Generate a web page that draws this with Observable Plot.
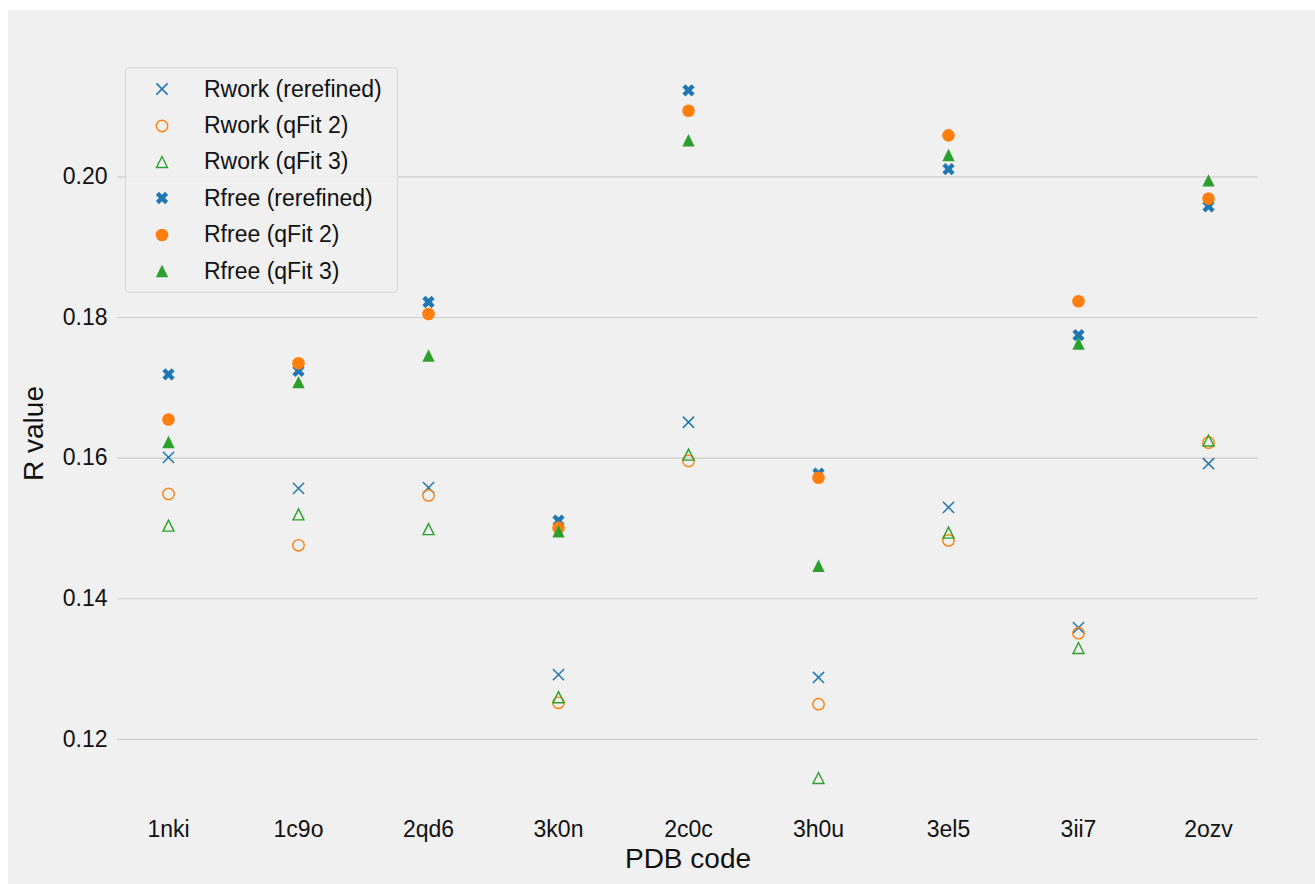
<!DOCTYPE html>
<html>
<head>
<meta charset="utf-8">
<script src="https://cdn.jsdelivr.net/npm/d3@7"></script>
<script src="https://cdn.jsdelivr.net/npm/@observablehq/plot@0.6"></script>
<style>
  body { margin: 0; background: #ffffff; }
  #wrap { position: relative; width: 1315px; height: 884px; overflow: hidden; }
  #chart { position: absolute; left: 8px; top: 10px; }
  #legend {
    position: absolute; left: 125px; top: 67px; width: 273px; height: 226px;
    box-sizing: border-box; border: 1px solid #d6d6d6; border-radius: 4px;
    background: rgba(240,240,240,0.8); padding-top: 3px;
    font-family: "Liberation Sans", Arial, sans-serif; font-size: 23px; color: #111;
  }
  .row { height: 36.4px; display: flex; align-items: center; }
  .row svg { margin-left: 26px; margin-right: 32px; flex: none; }
</style>
</head>
<body>
<div id="wrap"><div id="chart"></div><div id="legend"></div></div>
<script>
// ---- data ----
const codes = ["1nki", "1c9o", "2qd6", "3k0n", "2c0c", "3h0u", "3el5", "3ii7", "2ozv"];
const seriesNames = ["Rwork (rerefined)", "Rwork (qFit 2)", "Rwork (qFit 3)",
                     "Rfree (rerefined)", "Rfree (qFit 2)", "Rfree (qFit 3)"];
const rworkRerefined = [0.1601, 0.1557, 0.1558, 0.1292, 0.1651, 0.1288, 0.1530, 0.1359, 0.1592];
const rworkQfit2     = [0.1549, 0.1476, 0.1547, 0.1252, 0.1596, 0.1250, 0.1483, 0.1351, 0.1622];
const rworkQfit3     = [0.1504, 0.1520, 0.1499, 0.1260, 0.1605, 0.1145, 0.1494, 0.1330, 0.1625];
const rfreeRerefined = [0.1719, 0.1724, 0.1822, 0.1511, 0.2123, 0.1578, 0.2011, 0.1775, 0.1958];
const rfreeQfit2     = [0.1655, 0.1735, 0.1805, 0.1501, 0.2094, 0.1572, 0.2059, 0.1823, 0.1969];
const rfreeQfit3     = [0.1623, 0.1708, 0.1746, 0.1496, 0.2052, 0.1447, 0.2031, 0.1763, 0.1995];
const yTicks = [0.12, 0.14, 0.16, 0.18, 0.20];
const xLabel = "PDB code";
const yLabel = "R value";

// ---- symbols ----
const rad = size => Math.sqrt(size / Math.PI);
const symTimes = { draw(ctx, size) { const a = rad(size); ctx.moveTo(-a, -a); ctx.lineTo(a, a); ctx.moveTo(-a, a); ctx.lineTo(a, -a); } };
const symCircle = { draw(ctx, size) { const r = rad(size); ctx.moveTo(r, 0); ctx.arc(0, 0, r, 0, 2 * Math.PI); ctx.closePath(); } };
const symTriangle = { draw(ctx, size) { const a = rad(size); ctx.moveTo(0, -a); ctx.lineTo(a, a); ctx.lineTo(-a, a); ctx.closePath(); } };
const symXFilled = { draw(ctx, size) {
  const L = rad(size) * 1.05, h = L / 3, c = Math.SQRT1_2;
  const arm = (ux, uy, vx, vy) => {
    ctx.moveTo(L * ux + h * vx, L * uy + h * vy);
    ctx.lineTo(L * ux - h * vx, L * uy - h * vy);
    ctx.lineTo(-L * ux - h * vx, -L * uy - h * vy);
    ctx.lineTo(-L * ux + h * vx, -L * uy + h * vy);
    ctx.closePath();
  };
  arm(c, c, -c, c);
  arm(-c, c, -c, -c);
} };

const blue = "#1f77b4", orange = "#ff7f0e", green = "#2ca02c";
const series = [
  { name: seriesNames[0], values: rworkRerefined, color: blue,   symbol: symTimes,    filled: false, r: 5.6, sw: 1.5 },
  { name: seriesNames[1], values: rworkQfit2,     color: orange, symbol: symCircle,   filled: false, r: 5.7, sw: 1.4 },
  { name: seriesNames[2], values: rworkQfit3,     color: green,  symbol: symTriangle, filled: false, r: 5.5, sw: 1.4 },
  { name: seriesNames[3], values: rfreeRerefined, color: blue,   symbol: symXFilled,  filled: true,  r: 6.2, sw: 0 },
  { name: seriesNames[4], values: rfreeQfit2,     color: orange, symbol: symCircle,   filled: true,  r: 6.3, sw: 0 },
  { name: seriesNames[5], values: rfreeQfit3,     color: green,  symbol: symTriangle, filled: true,  r: 6.2, sw: 0 }
];

const dotMarks = series.map(s => Plot.dot(codes.map((c, i) => ({ code: c, value: s.values[i] })), {
  x: "code", y: "value", symbol: s.symbol, r: s.r,
  fill: s.filled ? s.color : "none",
  stroke: s.filled ? "none" : s.color,
  strokeWidth: s.sw
}));

const font = "'Liberation Sans', Arial, sans-serif";
const chart = Plot.plot({
  width: 1307, height: 874,
  marginLeft: 109, marginRight: 57, marginTop: 44, marginBottom: 72,
  style: { background: "#f0f0f0", fontFamily: font, color: "#111", overflow: "visible" },
  x: { type: "point", domain: codes, padding: 0.37 },
  y: { domain: [0.1096, 0.2174] },
  marks: [
    Plot.gridY(yTicks, { stroke: "#cbcbcb", strokeOpacity: 1, strokeWidth: 1.2 }),
    Plot.axisY(yTicks, { tickSize: 0, tickPadding: 10, tickFormat: d3.format(".2f"), fontSize: 23, label: null, fill: "#111" }),
    Plot.axisX({ tickSize: 0, tickPadding: 8, fontSize: 23, label: null, fill: "#111" }),
    Plot.text([yLabel], { text: d => d, frameAnchor: "left", dx: -83, rotate: -90, fontSize: 28, fill: "#111", textAnchor: "middle", lineAnchor: "middle" }),
    Plot.text([xLabel], { text: d => d, frameAnchor: "bottom", dy: 47, fontSize: 28, fill: "#111", textAnchor: "middle", lineAnchor: "middle" }),
    ...dotMarks
  ]
});
document.getElementById("chart").appendChild(chart);

// ---- legend (inside axes, upper left) ----
const legend = d3.select("#legend");
series.forEach(s => {
  const row = legend.append("div").attr("class", "row");
  const svg = row.append("svg").attr("width", 20).attr("height", 20);
  svg.append("path")
    .attr("transform", "translate(10,10)")
    .attr("d", d3.symbol(s.symbol, s.r * s.r * Math.PI)())
    .attr("fill", s.filled ? s.color : "none")
    .attr("stroke", s.filled ? "none" : s.color)
    .attr("stroke-width", s.sw);
  row.append("span").text(s.name);
});
</script>
</body>
</html>
